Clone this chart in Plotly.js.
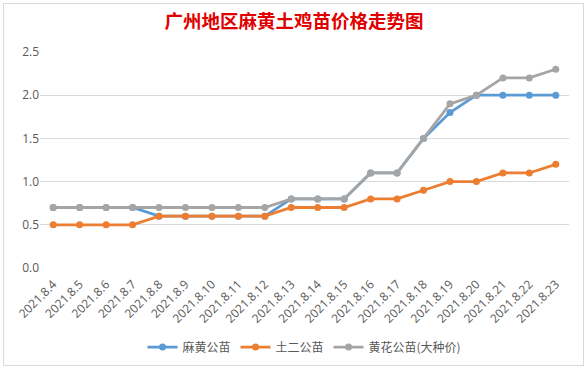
<!DOCTYPE html>
<html>
<head>
<meta charset="utf-8">
<script src="https://cdn.plot.ly/plotly-3.0.1.min.js"></script>
<style>
html,body{margin:0;padding:0;background:#fff;}
#chart{width:588px;height:369px;}
#frame{position:absolute;left:3px;top:3px;width:579px;height:361px;border:1px solid #d9d9d9;pointer-events:none;}
</style>
</head>
<body>
<div id="chart"></div>
<div id="frame"></div>
<script>
const dates = ["2021.8.4","2021.8.5","2021.8.6","2021.8.7","2021.8.8","2021.8.9","2021.8.10","2021.8.11","2021.8.12","2021.8.13","2021.8.14","2021.8.15","2021.8.16","2021.8.17","2021.8.18","2021.8.19","2021.8.20","2021.8.21","2021.8.22","2021.8.23"];
const mahuang = [0.7,0.7,0.7,0.7,0.6,0.6,0.6,0.6,0.6,0.8,0.8,0.8,1.1,1.1,1.5,1.8,2.0,2.0,2.0,2.0];
const tuer = [0.5,0.5,0.5,0.5,0.6,0.6,0.6,0.6,0.6,0.7,0.7,0.7,0.8,0.8,0.9,1.0,1.0,1.1,1.1,1.2];
const huanghua = [0.7,0.7,0.7,0.7,0.7,0.7,0.7,0.7,0.7,0.8,0.8,0.8,1.1,1.1,1.5,1.9,2.0,2.2,2.2,2.3];
const seriesNames = ["麻黄公苗","土二公苗","黄花公苗(大种价)"];
const colors = ["#5B9BD5","#ED7D31","#A5A5A5"];
const allData = [mahuang, tuer, huanghua];

const traces = allData.map((vals, i) => ({
  x: dates, y: vals, name: seriesNames[i], type: 'scatter', mode: 'lines+markers',
  line: {color: colors[i], width: 2.8}, marker: {color: colors[i], size: 7}
}));

const layout = {
  width: 588, height: 369,
  margin: {l: 40, r: 19, t: 52, b: 101, autoexpand: false},
  paper_bgcolor: '#fff', plot_bgcolor: '#fff',
  font: {family: '"Noto Sans CJK SC", "Open Sans", sans-serif', color: '#595959', size: 11},
  title: {text: '<b>广州地区麻黄土鸡苗价格走势图</b>', x: 0.5, xanchor: 'center', y: 1 - 22/369, yref: 'container', yanchor: 'middle',
    font: {family: '"Noto Sans CJK SC", serif', size: 18.5, color: '#E00000'}},
  xaxis: {type: 'category', range: [-0.5, dates.length - 0.5], tickangle: -45, showgrid: false, zeroline: false, showline: false, ticks: '', automargin: false,
    ticklabelstandoff: 6, tickfont: {size: 12, color: '#595959', family: '"Open Sans", sans-serif'}},
  yaxis: {range: [0, 2.5], dtick: 0.5, tickformat: '.1f', showgrid: true, gridcolor: '#d9d9d9', gridwidth: 1, automargin: false,
    zeroline: false, showline: false, ticks: '', tickfont: {size: 12, color: '#595959', family: '"Open Sans", sans-serif'}},
  showlegend: true,
  legend: {orientation: 'h', x: 0.5, xanchor: 'center', y: -0.366, yanchor: 'middle',
    font: {size: 12, color: '#595959'}, traceorder: 'normal', itemwidth: 30}
};
Plotly.newPlot('chart', traces, layout, {displayModeBar: false, staticPlot: true});
</script>
</body>
</html>
